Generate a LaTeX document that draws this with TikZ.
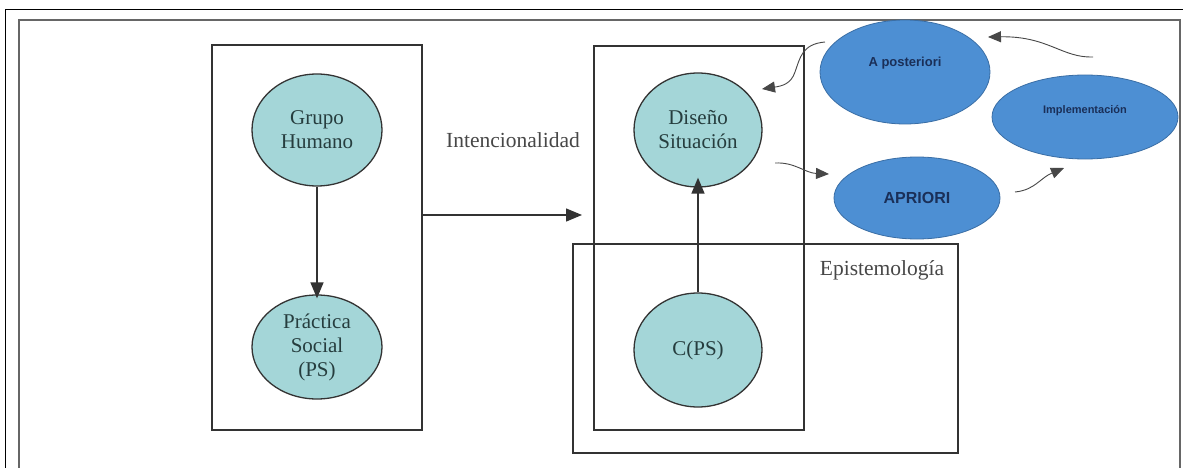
\documentclass[tikz,border=0pt]{standalone}
\usepackage{fontspec}
\setmainfont{Liberation Serif}
\newfontfamily\sansf{Liberation Sans}
\usetikzlibrary{arrows.meta,shapes.geometric}
\definecolor{teal1}{HTML}{A4D6D8}
\definecolor{tealtxt}{HTML}{263D3E}
\definecolor{blue1}{HTML}{4D8FD3}
\definecolor{blueline}{HTML}{3A6EA5}
\definecolor{bluetxt}{HTML}{1A2F58}
\definecolor{frame}{HTML}{333333}
\begin{document}
\begin{tikzpicture}[x=1pt,y=-1pt,
  boxl/.style={draw=frame,line width=1.6pt},
  tealell/.style={ellipse,draw=frame,line width=1.3pt,fill=teal1,text=tealtxt,
    font=\fontsize{21}{24}\selectfont,align=center,inner sep=0pt},
  blueell/.style={ellipse,draw=blueline,line width=0.8pt,fill=blue1,text=bluetxt,inner sep=0pt},
  lbl/.style={text=frame!90,font=\fontsize{21.5}{24}\selectfont,inner sep=0pt},
  arr/.style={draw=frame,line width=1.4pt,-{Triangle[length=16pt,width=13pt]}},
  wavy/.style={draw=frame!90,line width=0.9pt,-{Triangle[length=13pt,width=11pt]}}]
\useasboundingbox (0,0) rectangle (1183,468);
\fill[white] (0,0) rectangle (1183,468);
% frames
\draw[black,line width=0.8pt] (5,480) -- (5,9) -- (1190,9);
\draw[black!60,line width=2pt] (19,480) -- (19,20) -- (1180,20) -- (1180,480);
% boxes
\node[boxl,minimum width=210pt,minimum height=385pt,inner sep=0pt] (lbox) at (317,237.5) {};
\node[boxl,minimum width=210pt,minimum height=384pt,inner sep=0pt] (mbox) at (699,238) {};
\node[boxl,minimum width=385pt,minimum height=209pt,inner sep=0pt] (ebox) at (765.5,348.5) {};
% teal ellipses
\node[tealell,minimum width=130pt,minimum height=112pt] (grupo) at (317,130) {Grupo\\Humano};
\node[tealell,minimum width=130pt,minimum height=104pt] (practica) at (317,347) {Práctica\\Social\\(PS)};
\node[tealell,minimum width=128pt,minimum height=114pt] (diseno) at (698,130) {Diseño\\Situación};
\node[tealell,minimum width=128pt,minimum height=114pt] (cps) at (698,350) {C(PS)};
% labels
\node[lbl] (intenc) at (513,140) {Intencionalidad};
\node[lbl] (episte) at (882,270) {Epistemología};
% blue ellipses
\node[blueell,minimum width=170pt,minimum height=104pt,text height=10pt,text depth=20.8pt,font=\sansf\bfseries\fontsize{13}{15}\selectfont] (apost) at (905,72) {A posteriori};
\node[blueell,minimum width=186pt,minimum height=84pt,text height=9pt,text depth=15.2pt,font=\sansf\bfseries\fontsize{11}{13}\selectfont] (impl) at (1085,117) {Implementación};
\node[blueell,minimum width=166pt,minimum height=82pt,font=\sansf\bfseries\fontsize{16}{19}\selectfont] (apriori) at (917,198) {APRIORI};
% straight arrows
\draw[arr] (grupo.south) -- ([yshift=-4pt]practica.north);
\coordinate (harrowtip) at (582,215);
\draw[arr] (lbox.east |- harrowtip) -- (harrowtip);
\draw[arr] (cps.north) -- ([yshift=10pt]diseno.south);
% wavy arrows
\coordinate (w1s) at (1093,57);
\coordinate (w1e) at (988,37);
\draw[wavy] (w1s) .. controls (1062,58) and (1048,36) .. (w1e);
\coordinate (w2s) at (825,42);
\coordinate (w2e) at (762,89);
\draw[wavy] (w2s) .. controls (802,44) and (800,58) .. (795,72) .. controls (791,84) and (782,86) .. (w2e);
\coordinate (w3s) at (775,163);
\coordinate (w3e) at (829,174);
\draw[wavy] (w3s) .. controls (795,162) and (805,173) .. (w3e);
\coordinate (w4s) at (1015,192);
\coordinate (w4e) at (1064,168);
\draw[wavy] (w4s) .. controls (1035,190) and (1040,178) .. (w4e);
\end{tikzpicture}
\end{document}
